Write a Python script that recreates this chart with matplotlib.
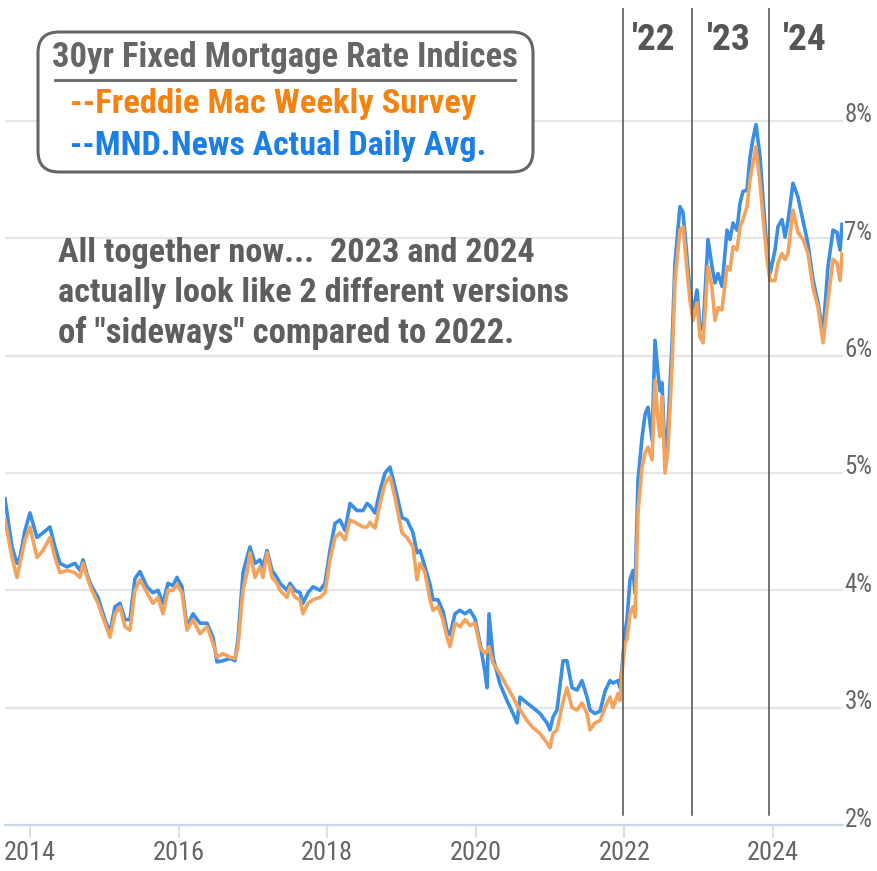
import matplotlib
matplotlib.use("Agg")
import matplotlib.pyplot as plt
from matplotlib import font_manager as fm
from matplotlib.patches import FancyBboxPatch
from matplotlib.lines import Line2D
from matplotlib.transforms import ScaledTranslation, blended_transform_factory

# ---------------- data ----------------
dates = [
    # 2013-2014
    2013.664, 2013.758, 2013.825, 2013.865, 2013.933, 2014.000, 2014.094, 2014.175, 2014.269,
    2014.336, 2014.404, 2014.498, 2014.606, 2014.673, 2014.713, 2014.781, 2014.834, 2014.915,
    # 2015
    2015.009, 2015.077, 2015.144, 2015.211, 2015.279, 2015.346, 2015.413, 2015.480, 2015.575,
    2015.655, 2015.723, 2015.790, 2015.857, 2015.925, 2015.978,
    # 2016
    2016.046, 2016.113, 2016.194, 2016.288, 2016.382, 2016.463, 2016.517, 2016.598, 2016.692,
    2016.759, 2016.799, 2016.867, 2016.921, 2016.961,
    # 2017
    2017.028, 2017.096, 2017.136, 2017.190, 2017.257, 2017.324, 2017.365, 2017.459, 2017.499,
    2017.567, 2017.634, 2017.674, 2017.742, 2017.809, 2017.903, 2017.970,
    # 2018
    2018.038, 2018.105, 2018.172, 2018.240, 2018.307, 2018.401, 2018.482, 2018.536, 2018.576,
    2018.643, 2018.711, 2018.778, 2018.845, 2018.913,
    # 2019
    2019.007, 2019.074, 2019.155, 2019.209, 2019.249, 2019.316, 2019.384, 2019.424, 2019.491,
    2019.559, 2019.612, 2019.653, 2019.720, 2019.787, 2019.855, 2019.922, 2019.989,
    # 2020
    2020.057, 2020.124, 2020.151, 2020.178, 2020.232, 2020.326, 2020.420, 2020.501, 2020.555,
    2020.595, 2020.689, 2020.770, 2020.864, 2020.958, 2020.999,
    # 2021
    2021.039, 2021.093, 2021.174, 2021.227, 2021.295, 2021.362, 2021.429, 2021.497, 2021.537,
    2021.604, 2021.672, 2021.739, 2021.806, 2021.847, 2021.914, 2021.941, 2021.968,
    # 2022
    2022.008, 2022.035, 2022.075, 2022.116, 2022.143, 2022.183, 2022.237, 2022.278, 2022.318,
    2022.372, 2022.412, 2022.452, 2022.479, 2022.506, 2022.547, 2022.587, 2022.641, 2022.681,
    2022.748, 2022.789, 2022.843, 2022.883, 2022.923, 2022.977,
    # 2023
    2023.017, 2023.058, 2023.125, 2023.179, 2023.219, 2023.260, 2023.314, 2023.381, 2023.421,
    2023.462, 2023.515, 2023.556, 2023.596, 2023.650, 2023.690, 2023.731, 2023.771, 2023.825,
    2023.866, 2023.919, 2023.960,
    # 2024
    2024.027, 2024.067, 2024.121, 2024.162, 2024.202, 2024.269, 2024.336, 2024.404, 2024.471,
    2024.538, 2024.606, 2024.673, 2024.740, 2024.808, 2024.861, 2024.902, 2024.929,
]

freddie_mac = [
    4.60, 4.28, 4.11, 4.23, 4.43, 4.54, 4.28, 4.34, 4.45, 4.28, 4.15, 4.17, 4.15, 4.11, 4.23, 4.09, 4.00, 3.89,
    3.72, 3.60, 3.80, 3.86, 3.69, 3.66, 4.00, 4.09, 3.98, 3.89, 3.94, 3.80, 4.00, 4.00, 4.05,
    3.98, 3.66, 3.75, 3.63, 3.69, 3.55, 3.43, 3.46, 3.43, 3.42, 3.52, 4.00, 4.15, 4.32,
    4.11, 4.20, 4.11, 4.32, 4.11, 4.06, 4.00, 3.94, 4.03, 3.94, 3.92, 3.80, 3.89, 3.92, 3.94, 3.98,
    4.26, 4.45, 4.49, 4.43, 4.60, 4.57, 4.54, 4.54, 4.58, 4.53, 4.74, 4.91, 4.97, 4.79,
    4.49, 4.45, 4.37, 4.09, 4.23, 4.15, 3.92, 3.83, 3.86, 3.75, 3.60, 3.52, 3.72, 3.69, 3.75, 3.70, 3.72,
    3.52, 3.46, 3.48, 3.52, 3.38, 3.29, 3.18, 3.09, 3.02, 2.98, 2.89, 2.83, 2.78, 2.70, 2.66,
    2.78, 2.81, 3.05, 3.17, 3.00, 2.98, 3.04, 2.95, 2.81, 2.87, 2.89, 3.00, 3.09, 3.00, 3.12, 3.06, 3.30,
    3.55, 3.58, 3.80, 3.86, 3.77, 4.66, 5.05, 5.17, 5.22, 5.11, 5.79, 5.45, 5.31, 5.65, 5.00, 5.20, 5.90, 6.64,
    7.07, 7.10, 6.73, 6.47, 6.30, 6.45,
    6.16, 6.11, 6.76, 6.58, 6.30, 6.41, 6.39, 6.76, 6.73, 6.93, 6.90, 7.10, 7.16, 7.27, 7.50, 7.64, 7.78, 7.47,
    7.18, 6.82, 6.64,
    6.64, 6.79, 6.87, 6.82, 6.87, 7.24, 7.05, 6.99, 6.87, 6.58, 6.41, 6.11, 6.47, 6.82, 6.79, 6.64, 6.87,
]

mnd_daily = [
    4.78, 4.37, 4.23, 4.28, 4.51, 4.66, 4.45, 4.49, 4.54, 4.37, 4.23, 4.20, 4.23, 4.17, 4.26, 4.11, 4.03, 3.94,
    3.75, 3.64, 3.86, 3.89, 3.75, 3.75, 4.10, 4.16, 4.03, 3.98, 4.00, 3.89, 4.06, 4.04, 4.11,
    4.03, 3.69, 3.80, 3.72, 3.72, 3.60, 3.39, 3.40, 3.42, 3.40, 3.58, 4.15, 4.28, 4.37,
    4.23, 4.26, 4.20, 4.34, 4.17, 4.11, 4.06, 4.00, 4.06, 4.00, 3.98, 3.89, 3.98, 4.03, 4.00, 4.06,
    4.34, 4.57, 4.60, 4.51, 4.74, 4.68, 4.68, 4.74, 4.72, 4.66, 4.85, 5.00, 5.05, 4.88,
    4.62, 4.60, 4.49, 4.32, 4.34, 4.20, 4.05, 3.92, 3.92, 3.82, 3.66, 3.62, 3.80, 3.83, 3.80, 3.83, 3.76,
    3.55, 3.30, 3.17, 3.80, 3.43, 3.20, 3.06, 2.95, 2.87, 3.09, 3.04, 3.00, 2.95, 2.87, 2.81,
    2.92, 2.98, 3.40, 3.40, 3.17, 3.15, 3.23, 3.09, 2.98, 2.95, 2.97, 3.14, 3.23, 3.21, 3.23, 3.17, 3.35,
    3.64, 3.75, 4.09, 4.17, 3.98, 4.94, 5.30, 5.50, 5.56, 5.28, 6.13, 5.85, 5.70, 5.77, 5.15, 5.40, 6.10, 6.79,
    7.27, 7.22, 6.84, 6.55, 6.36, 6.56,
    6.24, 6.22, 6.99, 6.76, 6.62, 6.70, 6.59, 7.07, 6.99, 7.13, 7.07, 7.30, 7.40, 7.41, 7.69, 7.85, 7.97, 7.70,
    7.33, 6.90, 6.70,
    6.90, 7.10, 7.16, 7.01, 7.15, 7.47, 7.35, 7.15, 6.95, 6.65, 6.45, 6.19, 6.76, 7.07, 7.05, 6.90, 7.12,
]

x_ticks = [2014, 2016, 2018, 2020, 2022, 2024]
x_tick_labels = ["2014", "2016", "2018", "2020", "2022", "2024"]
y_ticks = [2, 3, 4, 5, 6, 7, 8]
y_tick_labels = ["2%", "3%", "4%", "5%", "6%", "7%", "8%"]
year_marks = [2021.975, 2022.915, 2023.945]
year_mark_labels = ["'22", "'23", "'24"]
year_label_pos = [2022.40, 2023.40, 2024.43]

legend_title = "30yr Fixed Mortgage Rate Indices"
legend_lines = ["--Freddie Mac Weekly Survey", "--MND.News Actual Daily Avg."]
note_lines = ["All together now...  2023 and 2024",
              "actually look like 2 different versions",
              "of \"sideways\" compared to 2022."]

assert len(dates) == len(freddie_mac) == len(mnd_daily)

# ---------------- font choice: a narrow sans if one is installed ----------------
_fonts = fm.fontManager.ttflist
_names = {f.name for f in _fonts}
FONT = {"family": ["DejaVu Sans"]}
for cand in ["Liberation Sans Narrow", "Roboto Condensed", "Open Sans Condensed", "Arial Narrow"]:
    if cand in _names:
        FONT = {"family": [cand, "DejaVu Sans"]}
        break
else:
    cond = [f for f in _fonts if str(f.stretch) in ("condensed", "semi-condensed", "75", "87.5")
            and f.name in ("DejaVu Sans", "Open Sans", "Roboto", "Noto Sans")]
    if cond:
        FONT = {"family": [cond[0].name, "DejaVu Sans"], "fontstretch": "condensed"}
    elif "Roboto" in _names:
        FONT = {"family": ["Roboto", "DejaVu Sans"]}

# ---------------- style ----------------
W, H = 877, 871
ORANGE = "#f2a35e"
BLUE = "#3a8fe4"
GRID = "#e6e6e6"
AXIS = "#ccd6eb"
LABEL = "#666666"


def fx(px):
    return px / W


def fy(py):
    return 1 - py / H


fig = plt.figure(figsize=(W / 100, H / 100), dpi=100)
fig.patch.set_facecolor("white")
ax = fig.add_axes([fx(5), fy(825), fx(843) - fx(5), fy(8) - fy(825)])
ax.set_xlim(2013.664, 2024.942)
ax.set_ylim(2.0, 8.963)

for v in y_ticks[1:]:
    ax.axhline(v, color=GRID, lw=1.6, zorder=0)

ax.plot(dates, mnd_daily, color=BLUE, lw=2.6, solid_joinstyle="round", zorder=2)
ax.plot(dates, freddie_mac, color=ORANGE, lw=2.6, solid_joinstyle="round", zorder=3)

for xm in year_marks:
    ax.axvline(xm, ymin=0.012, ymax=1.0, color="#4d4d4d", lw=1.1, zorder=4)

for s in ["top", "left", "right"]:
    ax.spines[s].set_visible(False)
ax.spines["bottom"].set_color(AXIS)
ax.spines["bottom"].set_linewidth(1.6)

ax.set_xticks(x_ticks)
ax.set_xticklabels(x_tick_labels, color=LABEL, fontsize=16, **FONT)
ax.tick_params(axis="x", length=9, width=1.1, color=AXIS, pad=2.5)

ax.yaxis.tick_right()
ax.set_yticks(y_ticks)
ax.set_yticklabels(y_tick_labels, color=LABEL, fontsize=16, **FONT)
ax.tick_params(axis="y", length=0, pad=1)
for lab in ax.get_yticklabels():
    lab.set_transform(lab.get_transform() + ScaledTranslation(0, 0.08, fig.dpi_scale_trans))

fig.canvas.draw()
renderer = fig.canvas.get_renderer()


def fit(t, target_px):
    bb = t.get_window_extent(renderer)
    t.set_fontsize(t.get_fontsize() * target_px / bb.width)


# size tick labels so their widths match the reference
xl0 = ax.get_xticklabels()[0]
scale_x = 52.0 / xl0.get_window_extent(renderer).width
for lab in ax.get_xticklabels():
    lab.set_fontsize(lab.get_fontsize() * scale_x)
yl0 = ax.get_yticklabels()[-1]
scale_y = 28.0 / yl0.get_window_extent(renderer).width
for lab in ax.get_yticklabels():
    lab.set_fontsize(lab.get_fontsize() * scale_y)

# year labels at top
tr = blended_transform_factory(ax.transData, fig.transFigure)
for xl, txt in zip(year_label_pos, year_mark_labels):
    t = ax.text(xl, fy(40), txt, transform=tr, ha="center", va="center", fontweight="bold",
                fontsize=20, color="#555555", **FONT)
    fit(t, 44)

# legend box
box = FancyBboxPatch((fx(38), fy(172)), fx(533) - fx(38), fy(32) - fy(172),
                     boxstyle="round,pad=0,rounding_size=0.024", transform=fig.transFigure,
                     facecolor="white", edgecolor="#666666", lw=2.2, zorder=5)
fig.add_artist(box)

t_title = fig.text(fx(285), fy(58), legend_title, ha="center", va="center",
                   fontweight="bold", fontsize=21, color="#666666", zorder=6, **FONT)
fit(t_title, 466)
fig.add_artist(Line2D([fx(55), fx(515)], [fy(80), fy(80)], transform=fig.transFigure,
                      color="#666666", lw=2.0, zorder=6))
t_or = fig.text(fx(70), fy(104), legend_lines[0], ha="left", va="center",
                fontweight="bold", fontsize=21, color="#f5820f", zorder=6, **FONT)
fit(t_or, 405)
t_bl = fig.text(fx(70), fy(146), legend_lines[1], ha="left", va="center",
                fontweight="bold", fontsize=21, color="#1b7fe6", zorder=6, **FONT)
fit(t_bl, 415)

note_y = [253, 293, 333]
note_w = [477, 509, 455]
for s, yy, ww in zip(note_lines, note_y, note_w):
    t = fig.text(fx(58), fy(yy), s, ha="left", va="center",
                 fontweight="bold", fontsize=20, color="#5e5e5e", zorder=6, **FONT)
    fit(t, ww)

fig.savefig("out.png", dpi=100)
